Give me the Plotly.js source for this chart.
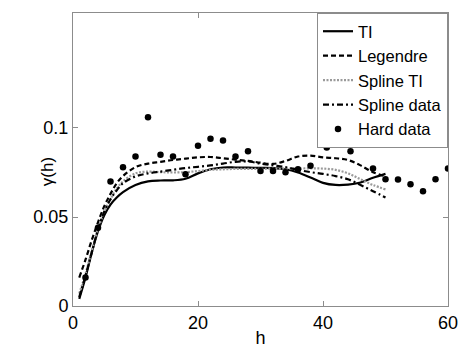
<!DOCTYPE html>
<html>
<head>
<meta charset="utf-8">
<script src="https://cdn.plot.ly/plotly-3.0.1.min.js"></script>
<style>html,body{margin:0;padding:0;background:#fff;}#chart{width:459px;height:348px;}</style>
</head>
<body>
<div id="chart"></div>
<script>
// Curve lag distances
var lagH = [1,2,3,4,5,6,7,8,10,12,14,16,18,20,22,24,26,28,30,32,34,36,38,40,42,44,46,48,50];
var ti = [0.004,0.016,0.030,0.042,0.051,0.057,0.061,0.064,0.068,0.0700,0.0705,0.0706,0.0715,0.0745,0.0768,0.0778,0.0778,0.0777,0.0776,0.0775,0.0768,0.0750,0.0722,0.0692,0.0680,0.0682,0.0694,0.0720,0.0742];
var legendre = [0.016,0.026,0.037,0.047,0.056,0.063,0.069,0.073,0.078,0.080,0.081,0.082,0.0828,0.0835,0.0837,0.0830,0.0822,0.0815,0.0805,0.0798,0.0815,0.0840,0.0845,0.0835,0.0830,0.0820,0.0790,0.0752,0.0728];
var splineTI = [0.007,0.018,0.031,0.043,0.053,0.060,0.066,0.070,0.0745,0.0755,0.0752,0.0750,0.0752,0.0758,0.0765,0.0768,0.0770,0.0770,0.0770,0.0772,0.0772,0.0772,0.0773,0.0772,0.0765,0.0745,0.0712,0.0680,0.0655];
var splineData = [0.005,0.017,0.030,0.043,0.053,0.060,0.065,0.069,0.0728,0.0745,0.0755,0.0765,0.0775,0.0782,0.0790,0.0800,0.0810,0.0812,0.0800,0.0790,0.0780,0.0765,0.0752,0.0742,0.0730,0.0712,0.0680,0.0645,0.0610];
// Hard data (experimental variogram)
var hardH = [2,4,6,8,10,12,14,16,18,20,22,24,26,28,30,32,34,36,38,40.6,44.4,48,50,52,54,56,58,60];
var hardY = [0.016,0.044,0.070,0.078,0.084,0.106,0.085,0.084,0.074,0.090,0.094,0.093,0.084,0.087,0.0758,0.0758,0.0752,0.0768,0.0788,0.089,0.087,0.0772,0.0712,0.0710,0.0684,0.0645,0.0712,0.0773];

var traces = [
  {x: lagH, y: ti, name: 'TI', mode: 'lines', line: {color: '#000', width: 2.2, shape: 'spline'}},
  {x: lagH, y: legendre, name: 'Legendre', mode: 'lines', line: {color: '#000', width: 2.2, dash: '5px,3px', shape: 'spline'}},
  {x: lagH, y: splineTI, name: 'Spline TI', mode: 'lines', line: {color: '#9a9a9a', width: 2.2, dash: '2px,1.5px', shape: 'spline'}},
  {x: lagH, y: splineData, name: 'Spline data', mode: 'lines', line: {color: '#000', width: 2.2, dash: '6px,3px,2px,3px', shape: 'spline'}},
  {x: hardH, y: hardY, name: 'Hard data', mode: 'markers', marker: {color: '#000', size: 6.5}}
];

var axisCommon = {
  showline: true, mirror: 'ticks', linecolor: '#8c8c8c', linewidth: 1,
  ticks: 'inside', ticklen: 5, tickcolor: '#8c8c8c',
  showgrid: false, zeroline: false,
  tickfont: {size: 18, color: '#000'}
};

var layout = {
  width: 459, height: 348,
  margin: {l: 73, r: 11, t: 13, b: 42},
  paper_bgcolor: '#fff', plot_bgcolor: '#fff',
  font: {family: 'Liberation Sans, Arial, sans-serif', color: '#000', size: 18},
  showlegend: true,
  legend: {x: 1, xanchor: 'right', y: 1, yanchor: 'top', bgcolor: '#fff',
           bordercolor: '#8c8c8c', borderwidth: 1, font: {size: 16.5},
           tracegroupgap: 0, itemwidth: 30},
  xaxis: Object.assign({}, axisCommon, {range: [0, 60], tickvals: [0,20,40,60],
           title: {text: 'h', font: {size: 18}, standoff: 2}}),
  yaxis: Object.assign({}, axisCommon, {range: [0, 0.1646], tickvals: [0,0.05,0.1], ticktext: ['0','0.05','0.1']}),
  annotations: [{text: 'γ(h)', xref: 'paper', yref: 'paper', x: -0.069, y: 0.457,
                 xanchor: 'center', yanchor: 'middle', textangle: -90, showarrow: false,
                 font: {size: 17, color: '#000'}}]
};

Plotly.newPlot('chart', traces, layout, {staticPlot: true, displayModeBar: false});
</script>
</body>
</html>
